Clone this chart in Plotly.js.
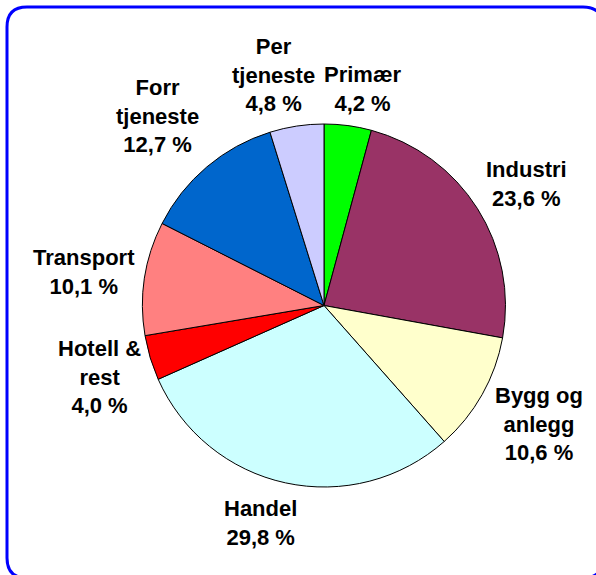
<!DOCTYPE html>
<html>
<head>
<meta charset="utf-8">
<script src="https://cdn.plot.ly/plotly-3.0.1.min.js"></script>
<style>html,body{margin:0;padding:0;background:#fff;}#chart{width:596px;height:575px;}</style>
</head>
<body>
<div id="chart"></div>
<script>
// Data
const categories = ['Primær', 'Industri', 'Bygg og anlegg', 'Handel', 'Hotell & rest', 'Transport', 'Forr tjeneste', 'Per tjeneste'];
const labelLines = ['Primær', 'Industri', 'Bygg og<br>anlegg', 'Handel', 'Hotell &<br>rest', 'Transport', 'Forr<br>tjeneste', 'Per<br>tjeneste'];
const shares = [4.2, 23.6, 10.6, 29.8, 4.0, 10.1, 12.7, 4.8];
const sliceColors = ['#00FF00', '#993366', '#FFFFCC', '#CCFFFF', '#FF0000', '#FF8080', '#0066CC', '#CCCCFF'];

// Layout (pixel positions of label block centres)
const W = 596, H = 575;
const labelPos = [[362, 89.5], [526, 184], [539, 424], [260, 522.5], [99.5, 376.5], [84, 272], [157.5, 116.5], [273, 75.5]];
const px = x => x / W;
const py = y => 1 - y / H;

const cx = 324, cy = 305.5, r = 181.5;

const trace = {
  type: 'pie',
  labels: categories,
  values: shares,
  sort: false,
  direction: 'clockwise',
  rotation: 0,
  marker: { colors: sliceColors, line: { color: '#000000', width: 1 } },
  textinfo: 'none',
  hoverinfo: 'none',
  showlegend: false,
  domain: { x: [px(cx - r), px(cx + r)], y: [py(cy + r), py(cy - r)] }
};

const fmt = v => v.toFixed(1).replace('.', ',') + ' %';
const annotations = categories.map((c, i) => ({
  xref: 'paper', yref: 'paper',
  x: px(labelPos[i][0]), y: py(labelPos[i][1]),
  xanchor: 'center', yanchor: 'middle',
  text: '<b>' + labelLines[i] + '<br>' + fmt(shares[i]) + '</b>',
  showarrow: false,
  align: 'center',
  font: { family: 'Liberation Sans, Arial, sans-serif', size: 22, color: '#000000' }
}));

// rounded border (extends slightly past right and bottom edges, as in the reference)
const bx0 = 7, by0 = 7, bx1 = 603, by1 = 578, br = 20;
const P = (x, y) => px(x) + ',' + py(y);
const path = 'M ' + P(bx0 + br, by0) + ' L ' + P(bx1 - br, by0) +
  ' Q ' + P(bx1, by0) + ' ' + P(bx1, by0 + br) +
  ' L ' + P(bx1, by1 - br) +
  ' Q ' + P(bx1, by1) + ' ' + P(bx1 - br, by1) +
  ' L ' + P(bx0 + br, by1) +
  ' Q ' + P(bx0, by1) + ' ' + P(bx0, by1 - br) +
  ' L ' + P(bx0, by0 + br) +
  ' Q ' + P(bx0, by0) + ' ' + P(bx0 + br, by0) + ' Z';

const layout = {
  width: W, height: H,
  margin: { l: 0, r: 0, t: 0, b: 0 },
  paper_bgcolor: '#ffffff',
  plot_bgcolor: '#ffffff',
  annotations: annotations,
  shapes: [{ type: 'path', xref: 'paper', yref: 'paper', path: path, line: { color: '#0000FF', width: 3 }, layer: 'above' }]
};

Plotly.newPlot('chart', [trace], layout, { staticPlot: true, displayModeBar: false });
</script>
</body>
</html>
